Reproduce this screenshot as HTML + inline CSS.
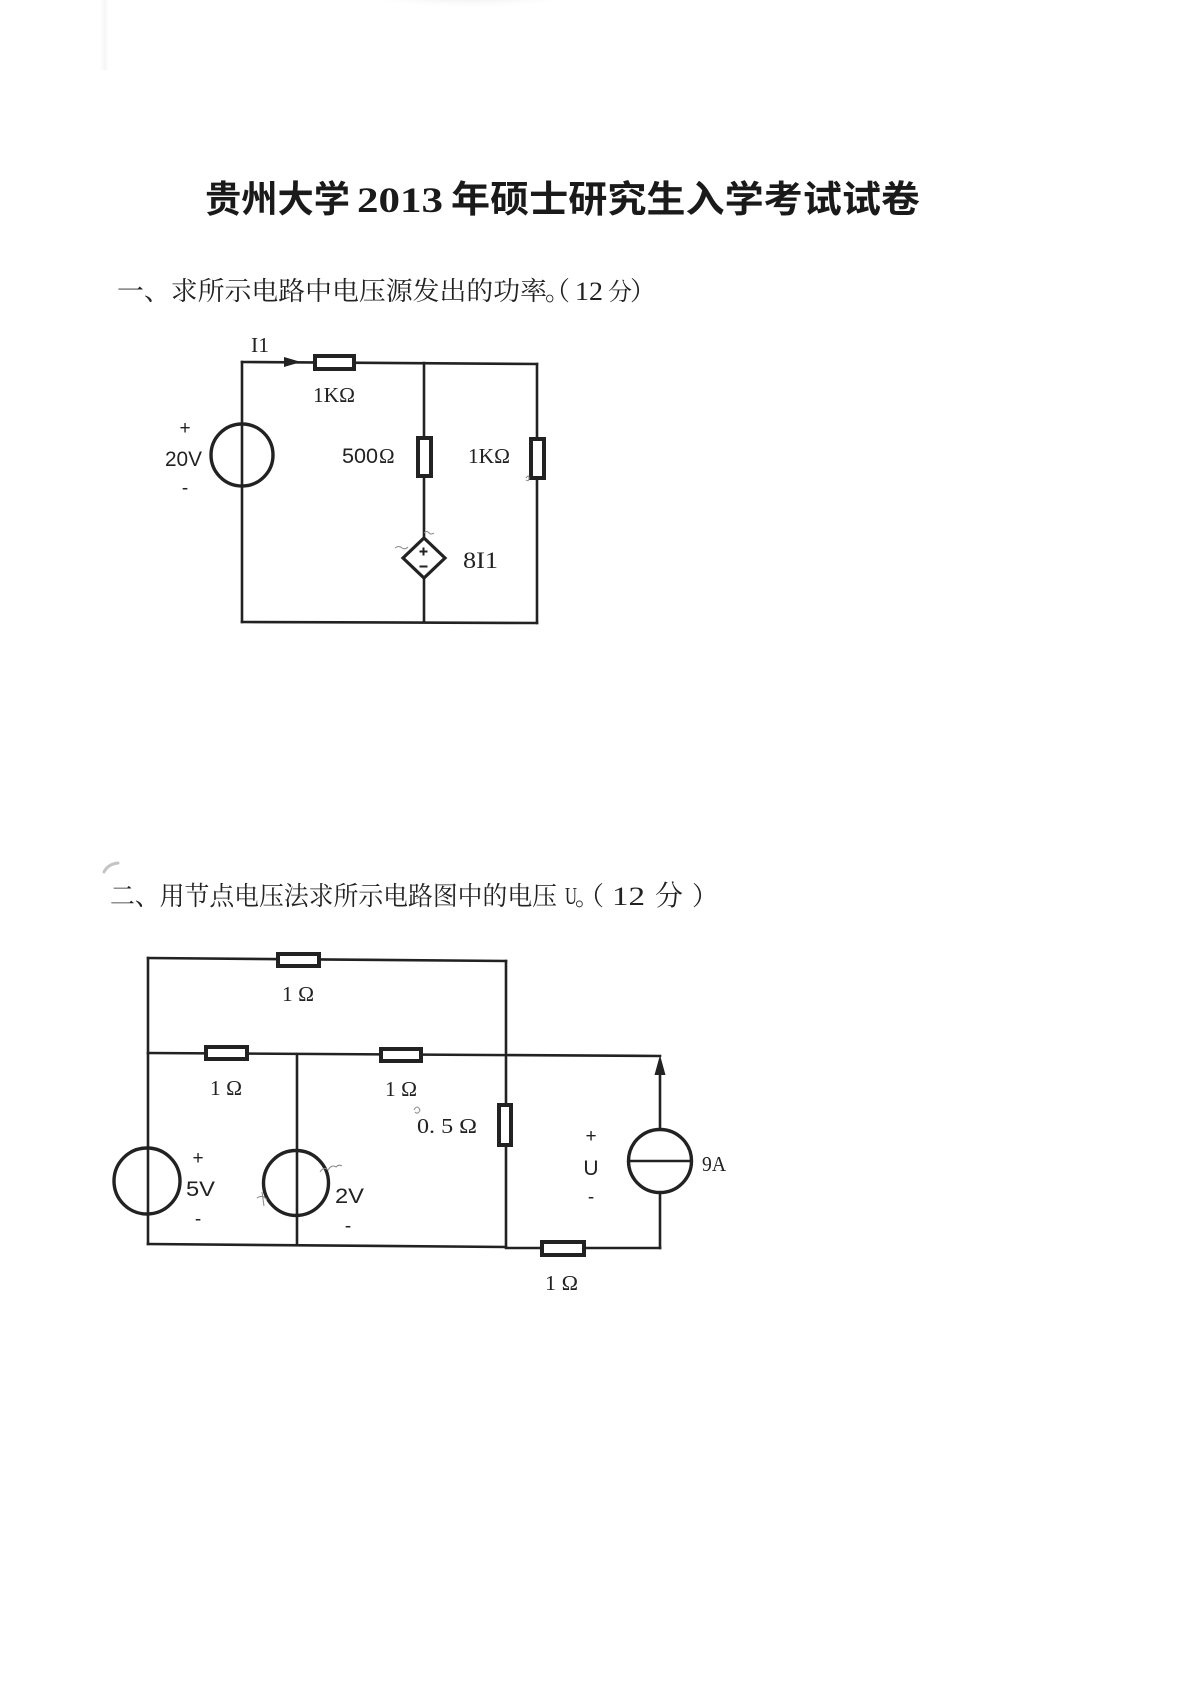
<!DOCTYPE html>
<html>
<head>
<meta charset="utf-8">
<style>
  html,body{margin:0;padding:0;background:#fff;}
  body{width:1190px;height:1683px;overflow:hidden;}
  svg{display:block;}
</style>
</head>
<body>
<svg width="1190" height="1683" viewBox="0 0 1190 1683" xmlns="http://www.w3.org/2000/svg">
  <defs>
    <radialGradient id="smudge" cx="0.5" cy="0" r="0.7">
      <stop offset="0" stop-color="#b8b8b8" stop-opacity="0.95"/>
      <stop offset="0.5" stop-color="#dcdcdc" stop-opacity="0.6"/>
      <stop offset="1" stop-color="#ffffff" stop-opacity="0"/>
    </radialGradient>
    <linearGradient id="edge" x1="0" y1="0" x2="1" y2="0">
      <stop offset="0" stop-color="#eeeeee" stop-opacity="0"/>
      <stop offset="0.5" stop-color="#ececec" stop-opacity="0.5"/>
      <stop offset="1" stop-color="#ffffff" stop-opacity="0"/>
    </linearGradient>
  </defs>
  <rect x="0" y="0" width="1190" height="1683" fill="#ffffff"/>

  <!-- scan artifacts -->
  <ellipse cx="470" cy="2" rx="100" ry="18" fill="url(#smudge)"/>
  <rect x="100" y="0" width="10" height="70" fill="url(#edge)"/>
  <path d="M104 872 Q108 864 118 863" stroke="#c4c4c4" stroke-width="3" fill="none" stroke-linecap="round"/>

  <!-- Title -->
  <g fill="#1a1a1a" font-weight="700">
    <text x="205" y="212" font-size="37" textLength="145" lengthAdjust="spacingAndGlyphs" font-family="'Noto Sans CJK SC','WenQuanYi Zen Hei',sans-serif">贵州大学</text>
    <text x="357" y="212" font-size="36" textLength="86" lengthAdjust="spacingAndGlyphs" font-family="'Liberation Serif',serif">2013</text>
    <text x="451" y="212" font-size="37" textLength="469" lengthAdjust="spacingAndGlyphs" font-family="'Noto Sans CJK SC','WenQuanYi Zen Hei',sans-serif">年硕士研究生入学考试试卷</text>
  </g>

  <!-- Heading 1 -->
  <g fill="#222" font-family="'Liberation Serif','Noto Serif CJK SC',serif">
    <text x="117" y="300" font-size="26" textLength="430" lengthAdjust="spacingAndGlyphs">一、求所示电路中电压源发出的功率</text>
    <text x="545" y="300" font-size="26">。</text>
    <text x="544" y="300" font-size="26">（</text>
    <text x="575" y="300" font-size="26" textLength="28" lengthAdjust="spacingAndGlyphs">12</text>
    <text x="608" y="300" font-size="24">分</text>
    <text x="630" y="300" font-size="26">）</text>
  </g>

  <!-- Heading 2 -->
  <g fill="#222" font-family="'Liberation Serif','Noto Serif CJK SC',serif">
    <text x="110" y="905" font-size="26" textLength="447" lengthAdjust="spacingAndGlyphs">二、用节点电压法求所示电路图中的电压</text>
    <text x="565" y="904" font-size="24" textLength="12" lengthAdjust="spacingAndGlyphs">U</text>
    <text x="575" y="905" font-size="24">。</text>
    <text x="578" y="905" font-size="26">（</text>
    <text x="612" y="905" font-size="26" textLength="33" lengthAdjust="spacingAndGlyphs">12</text>
    <text x="655" y="905" font-size="28">分</text>
    <text x="692" y="905" font-size="26">）</text>
  </g>

  <!-- ===== Circuit 1 ===== -->
  <g stroke="#222" stroke-width="2.6" fill="none" stroke-linecap="square">
    <line x1="242" y1="362" x2="242" y2="622"/>
    <line x1="242" y1="362" x2="537" y2="364"/>
    <line x1="424" y1="363" x2="424" y2="622"/>
    <line x1="537" y1="364" x2="537" y2="623"/>
    <line x1="242" y1="622" x2="537" y2="623"/>
  </g>
  <polygon points="301,362 284,357 284,367" fill="#222"/>
  <circle cx="242" cy="455" r="31" fill="none" stroke="#222" stroke-width="3.4"/>
  <g fill="#fff" stroke="#222" stroke-width="4">
    <rect x="315" y="356" width="39" height="13"/>
    <rect x="418" y="438" width="13" height="38"/>
    <rect x="531" y="439" width="13" height="39"/>
  </g>
  <polygon points="424,538 445,558 424,578 403,558" fill="#fff" stroke="#222" stroke-width="3.2"/>
  <g stroke="#222" stroke-width="2">
    <line x1="419.5" y1="551.5" x2="427.5" y2="551.5"/>
    <line x1="423.5" y1="547.5" x2="423.5" y2="555.5"/>
    <line x1="419.5" y1="566.5" x2="427.5" y2="566.5"/>
  </g>
  <g fill="#222" font-family="'Liberation Serif',serif" font-size="21">
    <text x="251" y="352" textLength="18" lengthAdjust="spacingAndGlyphs">I1</text>
    <text x="313" y="402" textLength="42" lengthAdjust="spacingAndGlyphs">1KΩ</text>
    <text x="468" y="463" textLength="42" lengthAdjust="spacingAndGlyphs">1KΩ</text>
    <text x="463" y="568" font-size="23" textLength="35" lengthAdjust="spacingAndGlyphs">8I1</text>
  </g>
  <g fill="#222" font-family="'Liberation Sans',sans-serif" font-size="21">
    <text x="185" y="434" text-anchor="middle" font-size="19">+</text>
    <text x="165" y="466" textLength="37" lengthAdjust="spacingAndGlyphs">20V</text>
    <text x="185" y="494" text-anchor="middle" font-size="19">-</text>
    <text x="342" y="463" textLength="36" lengthAdjust="spacingAndGlyphs">500</text>
    <text x="379" y="463" font-family="'Liberation Serif',serif" font-size="21">Ω</text>
  </g>

  <!-- ===== Circuit 2 ===== -->
  <g stroke="#222" stroke-width="2.6" fill="none" stroke-linecap="square">
    <line x1="148" y1="958" x2="148" y2="1244"/>
    <line x1="148" y1="958" x2="506" y2="961"/>
    <line x1="506" y1="961" x2="506" y2="1247"/>
    <line x1="148" y1="1053" x2="660" y2="1056"/>
    <line x1="297" y1="1054" x2="297" y2="1245"/>
    <line x1="148" y1="1244" x2="506" y2="1247"/>
    <line x1="506" y1="1248" x2="660" y2="1248"/>
    <line x1="660" y1="1070" x2="660" y2="1248"/>
  </g>
  <polygon points="660,1055 654.5,1075 665.5,1075" fill="#222"/>
  <circle cx="147" cy="1181" r="33" fill="none" stroke="#222" stroke-width="3.4"/>
  <circle cx="296" cy="1183" r="32.5" fill="none" stroke="#222" stroke-width="3.4"/>
  <circle cx="660" cy="1161" r="31.5" fill="#fff" stroke="#222" stroke-width="3.4"/>
  <line x1="629" y1="1161" x2="691" y2="1161" stroke="#222" stroke-width="2.6"/>
  <g fill="#fff" stroke="#222" stroke-width="4">
    <rect x="278" y="954" width="41" height="12"/>
    <rect x="206" y="1047" width="41" height="12"/>
    <rect x="381" y="1049" width="40" height="12"/>
    <rect x="499" y="1105" width="12" height="40"/>
    <rect x="542" y="1242" width="42" height="13"/>
  </g>
  <g fill="#222" font-family="'Liberation Serif',serif" font-size="21">
    <text x="282" y="1001" textLength="32" lengthAdjust="spacingAndGlyphs">1 Ω</text>
    <text x="210" y="1095" textLength="32" lengthAdjust="spacingAndGlyphs">1 Ω</text>
    <text x="385" y="1096" textLength="32" lengthAdjust="spacingAndGlyphs">1 Ω</text>
    <text x="417" y="1133" textLength="60" lengthAdjust="spacingAndGlyphs">0. 5 Ω</text>
    <text x="702" y="1171" textLength="24" lengthAdjust="spacingAndGlyphs">9A</text>
    <text x="545" y="1290" textLength="33" lengthAdjust="spacingAndGlyphs">1 Ω</text>
  </g>
  <g fill="#222" font-family="'Liberation Sans',sans-serif" font-size="21">
    <text x="198" y="1164" text-anchor="middle" font-size="19">+</text>
    <text x="186" y="1196" textLength="29" lengthAdjust="spacingAndGlyphs">5V</text>
    <text x="198" y="1225" text-anchor="middle" font-size="19">-</text>
    <text x="335" y="1203" textLength="29" lengthAdjust="spacingAndGlyphs">2V</text>
    <text x="348" y="1232" text-anchor="middle" font-size="19">-</text>
    <text x="591" y="1142" text-anchor="middle" font-size="19">+</text>
    <text x="591" y="1175" text-anchor="middle">U</text>
    <text x="591" y="1203" text-anchor="middle" font-size="19">-</text>
  </g>
  <g stroke="#888" stroke-width="1" fill="none">
    <path d="M414 1110 q3 -6 6 0 q-2 5 -5 2"/>
    <path d="M320 1172 q4 -6 8 -2 q4 -6 8 -3 q3 -3 6 -1"/>
    <path d="M257 1198 q6 -4 10 2 M262 1192 l2 14"/>
    <path d="M526 478 q3 -4 3 0 q0 4 -3 2"/>
    <path d="M395 548 q4 -3 7 0 q3 2 6 -1"/>
    <path d="M424 533 q3 -3 5 0 q2 2 5 0"/>
  </g>
</svg>
</body>
</html>
